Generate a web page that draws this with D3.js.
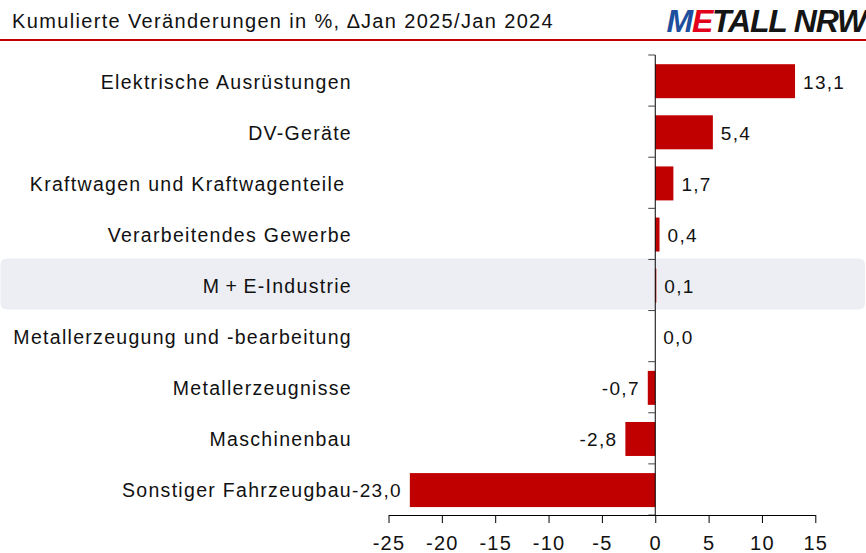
<!DOCTYPE html>
<html>
<head>
<meta charset="utf-8">
<script src="https://cdn.jsdelivr.net/npm/d3@7"></script>
<style>
  html, body { margin: 0; padding: 0; background: #fff; }
  svg { display: block; font-family: "Liberation Sans", Arial, sans-serif; }
  text { white-space: pre; }
</style>
</head>
<body>
<div id="chart"></div>
<script>
const categories = [
  'Elektrische Ausrüstungen',
  'DV-Geräte',
  'Kraftwagen und Kraftwagenteile ',
  'Verarbeitendes Gewerbe',
  'M\u202F+\u202FE-Industrie',
  'Metallerzeugung und -bearbeitung',
  'Metallerzeugnisse',
  'Maschinenbau',
  'Sonstiger Fahrzeugbau'
]
const values = [13.1, 5.4, 1.7, 0.4, 0.1, 0.0, -0.7, -2.8, -23.0]
const xTicks = [-25, -20, -15, -10, -5, 0, 5, 10, 15]
const highlighted = 'M\u202F+\u202FE-Industrie'
const title = 'Kumulierte Veränderungen in %, \u2206Jan 2025/Jan 2024'

const width = 866
const height = 553
const red = '#c00000'
const fmt = v => v.toFixed(1).replace('.', ',')

const svg = d3.select('#chart').append('svg')
  .attr('width', width)
  .attr('height', height)

const x = d3.scaleLinear().domain([-25, 15]).range([388.5, 815.3])
const y = d3.scaleBand().domain(categories).range([55, 515]).padding(0)
const step = y.bandwidth()

// header
svg.append('text')
  .attr('x', 12).attr('y', 28)
  .attr('font-size', 20)
  .attr('letter-spacing', 1.35)
  .attr('fill', '#111')
  .text(title)

const logo = svg.append('text')
  .attr('x', 866).attr('y', 32)
  .attr('text-anchor', 'end')
  .attr('font-size', 32)
  .attr('font-weight', 'bold')
  .attr('font-style', 'italic')
  .attr('letter-spacing', -1.2)
logo.append('tspan').attr('fill', '#1d4f9e').text('M')
logo.append('tspan').attr('fill', '#e2001a').text('E')
logo.append('tspan').attr('fill', '#151515').text('TALL NRW')

svg.append('line')
  .attr('x1', 0).attr('x2', width)
  .attr('y1', 40).attr('y2', 40)
  .attr('stroke', red)
  .attr('stroke-width', 2)

// highlight row
svg.append('rect')
  .attr('x', 0.5).attr('width', width - 1.5)
  .attr('y', y(highlighted) - 1).attr('height', step)
  .attr('rx', 6)
  .attr('fill', '#eceef3')

const data = categories.map((c, i) => ({ c, v: values[i] }))

// bars
svg.append('g').selectAll('rect')
  .data(data)
  .join('rect')
  .attr('x', d => x(Math.min(0, d.v)))
  .attr('width', d => Math.abs(x(d.v) - x(0)))
  .attr('y', d => y(d.c) + step * 0.18)
  .attr('height', step * 0.665)
  .attr('fill', red)

// category labels
svg.append('g').selectAll('text')
  .data(data)
  .join('text')
  .attr('x', 352)
  .attr('y', d => y(d.c) + step / 2 + 8)
  .attr('text-anchor', 'end')
  .attr('font-size', 19.5)
  .attr('letter-spacing', 1.3)
  .attr('fill', '#111')
  .text(d => d.c)

// value labels
svg.append('g').selectAll('text')
  .data(data)
  .join('text')
  .attr('x', d => d.v < 0 ? x(d.v) - 8 : x(d.v) + 8)
  .attr('y', d => y(d.c) + step / 2 + 8)
  .attr('text-anchor', d => d.v < 0 ? 'end' : 'start')
  .attr('font-size', 19)
  .attr('letter-spacing', 1.3)
  .attr('fill', '#111')
  .text(d => fmt(d.v))

// y axis: line at zero with ticks on band boundaries
const yAxis = svg.append('g')
yAxis.append('line')
  .attr('x1', x(0)).attr('x2', x(0))
  .attr('y1', 55).attr('y2', 515)
  .attr('stroke', '#000')
yAxis.selectAll('.yt')
  .data(d3.range(categories.length + 1))
  .join('line')
  .attr('class', 'yt')
  .attr('x1', x(0) - 7).attr('x2', x(0))
  .attr('y1', i => 55 + i * step).attr('y2', i => 55 + i * step)
  .attr('stroke', '#444')

// x axis
const xAxis = svg.append('g')
  .attr('transform', 'translate(0,515)')
  .call(d3.axisBottom(x).tickValues(xTicks).tickSize(8).tickSizeOuter(0).tickFormat(d => String(d)))
xAxis.select('.domain').attr('stroke', '#000')
xAxis.selectAll('.tick line').attr('stroke', '#000')
xAxis.selectAll('.tick text')
  .attr('y', 34.5).attr('dy', 0)
  .attr('font-size', 20)
  .attr('font-family', '"Liberation Sans", Arial, sans-serif')
  .attr('letter-spacing', 1.2)
  .attr('fill', '#111')
</script>
</body>
</html>
